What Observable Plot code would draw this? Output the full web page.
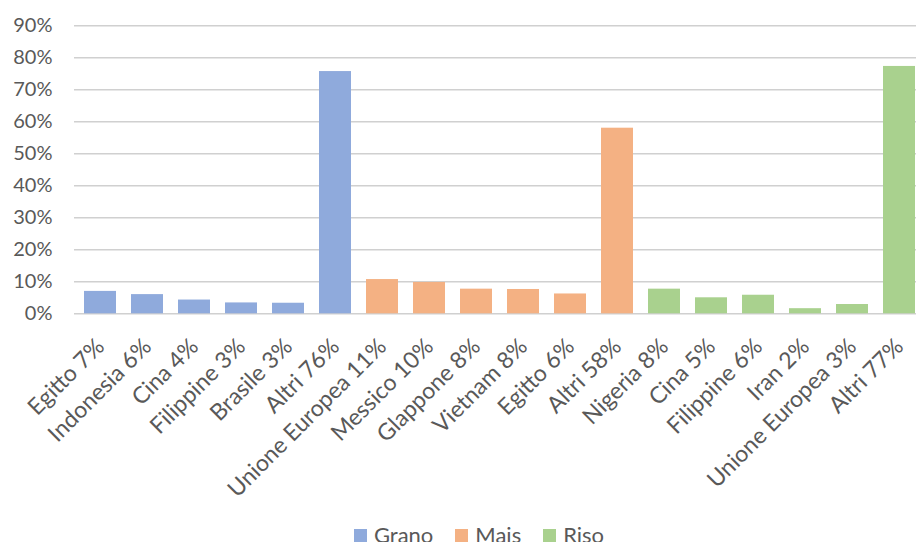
<!DOCTYPE html>
<html>
<head>
<meta charset="utf-8">
<script src="https://cdn.jsdelivr.net/npm/d3@7"></script>
<script src="https://cdn.jsdelivr.net/npm/@observablehq/plot@0.6"></script>
<style>
  html, body { margin: 0; padding: 0; background: #fff; overflow: hidden; }
  #chart { width: 916px; height: 542px; position: relative; overflow: hidden; }
  .legend { display: flex; justify-content: center; font-family: Lato, "Open Sans", sans-serif;
            font-size: 22px; color: #595959; line-height: 24px; margin-left: 42px; padding-top: 5px; }
  .legend .item { display: flex; align-items: center; margin: 0 11px; }
  .legend .sw { width: 13px; height: 13px; margin-right: 7px; }
</style>
</head>
<body>
<div id="chart"></div>
<script>
// Import shares by country, grouped by crop
const crops = ["Grano", "Mais", "Riso"];
const cropColors = ["#8FAADC", "#F4B183", "#A9D18E"];

const granoLabels = ["Egitto 7%", "Indonesia 6%", "Cina 4%", "Filippine 3%", "Brasile 3%", "Altri 76%"];
const granoValues = [0.07, 0.06, 0.043, 0.034, 0.033, 0.757];

const maisLabels = ["Unione Europea 11%", "Messico 10%", "Glappone 8%", "Vietnam 8%", "Egitto 6%", "Altri 58%"];
const maisValues = [0.107, 0.098, 0.077, 0.076, 0.062, 0.58];

const risoLabels = ["Nigeria 8%", "Cina 5%", "Filippine 6%", "Iran 2%", "Unione Europea 3%", "Altri 77%"];
const risoValues = [0.077, 0.05, 0.058, 0.016, 0.029, 0.773];

const yTicks = [0, 0.1, 0.2, 0.3, 0.4, 0.5, 0.6, 0.7, 0.8, 0.9];

// Build rows; each label gets a unique key since some names repeat across crops
const groups = [[granoLabels, granoValues], [maisLabels, maisValues], [risoLabels, risoValues]];
const rows = [];
groups.forEach(([labels, values], g) => {
  labels.forEach((label, i) => {
    rows.push({key: crops[g] + "|" + label, label, value: values[i], crop: crops[g]});
  });
});
const keyLabel = new Map(rows.map(d => [d.key, d.label]));

const font = "Lato, 'Open Sans', sans-serif";
const textColor = "#595959";

const plot = Plot.plot({
  width: 916,
  height: 518,
  marginTop: 25.3,
  marginBottom: 204.7,
  marginLeft: 74,
  marginRight: 0,
  style: {fontFamily: font, fontSize: "20px", color: textColor, background: "#fff", overflow: "hidden"},
  x: {
    type: "band",
    domain: rows.map(d => d.key),
    range: [74.5, 925],
    paddingInner: 0.32,
    paddingOuter: 0.16,
    axis: null,
    label: null
  },
  y: {domain: [0, 0.9], axis: null, label: null},
  color: {domain: crops, range: cropColors},
  marks: [
    Plot.gridY(yTicks, {stroke: "#d0d0d0", strokeOpacity: 1, strokeWidth: 1.5}),
    Plot.barY(rows, {x: "key", y: "value", fill: "crop"}),
    Plot.axisY(yTicks, {
      tickFormat: d3.format(".0%"),
      tickSize: 0,
      tickPadding: 22,
      fill: textColor,
      fontSize: 20,
      label: null
    }),
    Plot.axisX({
      tickSize: 0,
      tickPadding: 29,
      tickRotate: -45,
      tickFormat: k => keyLabel.get(k),
      fill: textColor,
      fontSize: 23,
      dx: 0,
      label: null
    })
  ]
});

const chart = document.getElementById("chart");
chart.appendChild(plot);

// Series legend under the plot
const legend = document.createElement("div");
legend.className = "legend";
crops.forEach((c, i) => {
  const item = document.createElement("div");
  item.className = "item";
  const sw = document.createElement("span");
  sw.className = "sw";
  sw.style.background = cropColors[i];
  const t = document.createElement("span");
  t.textContent = c;
  item.appendChild(sw);
  item.appendChild(t);
  legend.appendChild(item);
});
chart.appendChild(legend);
</script>
</body>
</html>
